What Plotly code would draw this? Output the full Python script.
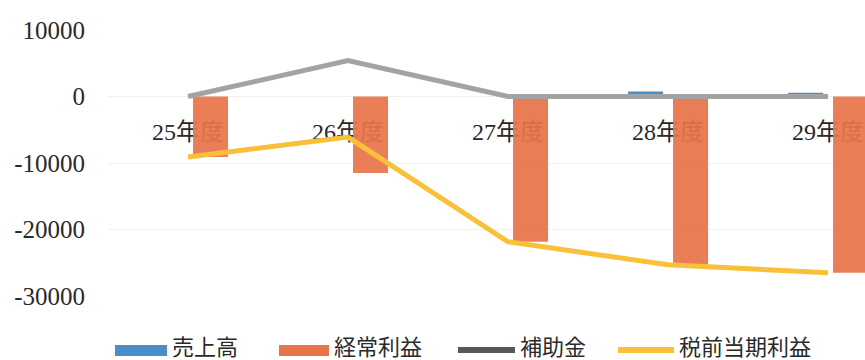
import plotly.graph_objects as go

# 年度別の業績推移
years = ["25年度", "26年度", "27年度", "28年度", "29年度"]
sales = [0, 0, 0, 750, 550]                               # 売上高
ordinary_profit = [-9100, -11500, -21850, -25300, -26500]  # 経常利益
subsidy = [0, 5400, 0, 0, 0]                               # 補助金
pretax_profit = [-9100, -6100, -21850, -25300, -26500]     # 税前当期利益

y_ticks = [10000, 0, -10000, -20000, -30000]

series_names = ["売上高", "経常利益", "補助金", "税前当期利益"]
colors = ["#4A8DCB", "#E8744A", "#A3A3A3", "#F9C03A"]

fig = go.Figure()
fig.add_trace(go.Bar(x=years, y=sales, name=series_names[0],
                     marker=dict(color=colors[0], line=dict(width=0)), showlegend=False))
fig.add_trace(go.Bar(x=years, y=ordinary_profit, name=series_names[1], opacity=0.93,
                     marker=dict(color=colors[1], line=dict(width=0)), showlegend=False))
fig.add_trace(go.Scatter(x=years, y=subsidy, name=series_names[2], mode="lines",
                         line=dict(color=colors[2], width=5), showlegend=False))
fig.add_trace(go.Scatter(x=years, y=pretax_profit, name=series_names[3], mode="lines",
                         line=dict(color=colors[3], width=5), showlegend=False))

W, H = 865, 360
ml, mr, mt, mb = 108, 0, 30, 64
y_min, y_max = -30000, 10000
plot_w = W - ml - mr
plot_h = H - mt - mb

fig.update_layout(
    width=W, height=H,
    margin=dict(l=ml, r=mr, t=mt, b=mb, autoexpand=False),
    paper_bgcolor="white", plot_bgcolor="white",
    barmode="group", bargap=0.4375, bargroupgap=0.222,
    showlegend=False,
    xaxis=dict(
        type="category", range=[-0.5, 4.231],
        anchor="free", position=(0 - y_min) / (y_max - y_min),
        showline=False, showgrid=False, zeroline=False,
        ticks="", ticklabelstandoff=18, layer="below traces",
        tickfont=dict(family="Liberation Serif, Noto Sans CJK JP", size=24, color="#2a2a2a"),
    ),
    yaxis=dict(
        range=[y_min, y_max], tickvals=y_ticks,
        ticktext=[str(v) for v in y_ticks],
        showgrid=True, gridcolor="#f0f0f0", gridwidth=1,
        zeroline=False, showline=False, ticks="",
        ticklabelstandoff=22,
        tickfont=dict(family="Liberation Serif, Noto Serif, serif", size=25, color="#2a2a2a"),
    ),
)


def px_x(x):
    return (x - ml) / plot_w


def px_y(y):
    return -(y - (H - mb)) / plot_h


# 凡例（下部、横並び）
items = [
    (series_names[0], colors[0], "box", 115, 167),
    (series_names[1], colors[1], "box", 279, 329),
    (series_names[2], "#585858", "line", 458, 515),
    (series_names[3], colors[3], "line", 618, 674),
]
for name, col, kind, x0, x1 in items:
    if kind == "box":
        fig.add_shape(type="rect", xref="paper", yref="paper",
                      x0=px_x(x0), x1=px_x(x1), y0=px_y(356), y1=px_y(345),
                      fillcolor=col, line=dict(width=0))
    else:
        fig.add_shape(type="line", xref="paper", yref="paper",
                      x0=px_x(x0), x1=px_x(x1), y0=px_y(350), y1=px_y(350),
                      line=dict(color=col, width=6))
    fig.add_annotation(xref="paper", yref="paper",
                       x=px_x(x1 + 3), y=px_y(344.5),
                       text=name, showarrow=False, xanchor="left", yanchor="middle",
                       font=dict(family="Noto Sans CJK JP", size=22, color="#2a2a2a"))

fig.write_html("out.html")
